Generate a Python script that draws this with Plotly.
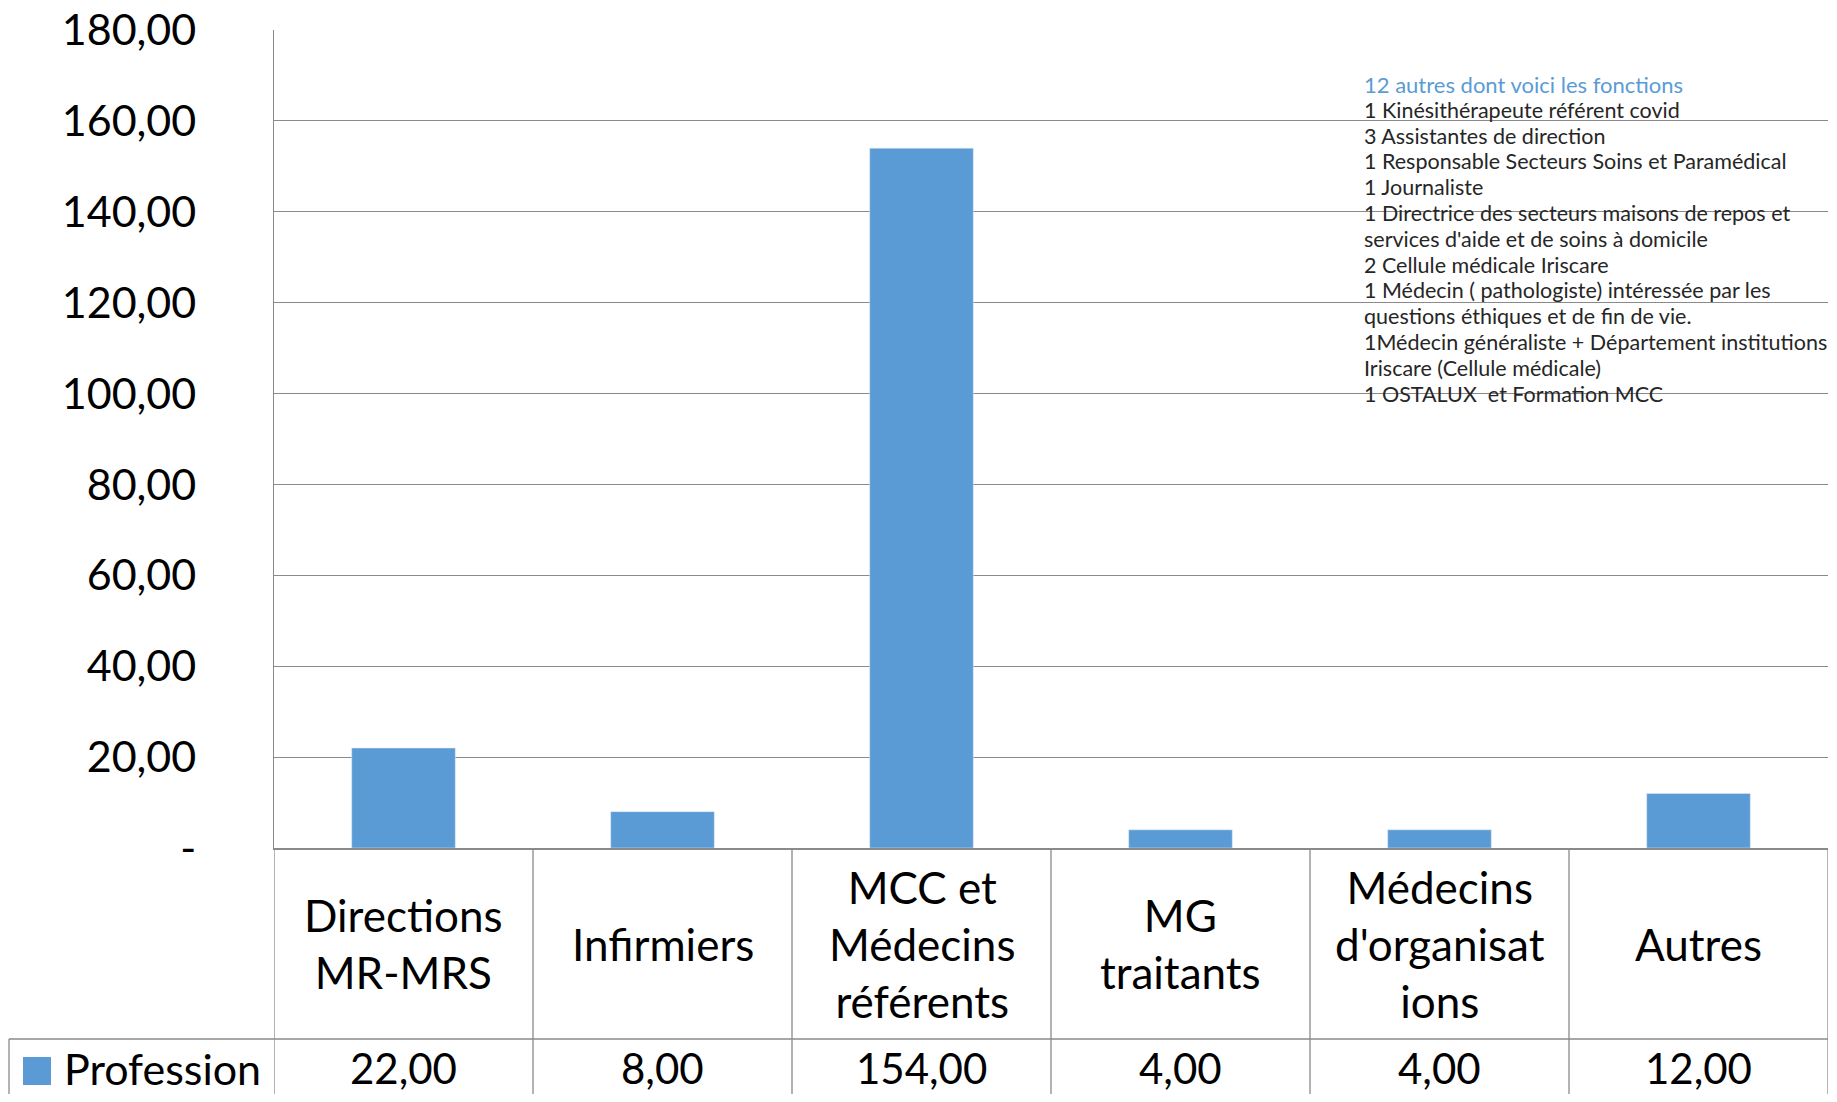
import plotly.graph_objects as go

categories = ["Directions<br>MR-MRS", "Infirmiers", "MCC et<br>Médecins<br>référents",
              "MG<br>traitants", "Médecins<br>d'organisat<br>ions", "Autres"]
values = [22, 8, 154, 4, 4, 12]
series_name = "Profession"
y_ticks = [0, 20, 40, 60, 80, 100, 120, 140, 160, 180]
note_title = "12 autres dont voici les fonctions"
note_lines = [
    "1 Kinésithérapeute référent covid",
    "3 Assistantes de direction",
    "1 Responsable Secteurs Soins et Paramédical",
    "1 Journaliste",
    "1 Directrice des secteurs maisons de repos et",
    "services d'aide et de soins à domicile",
    "2 Cellule médicale Iriscare",
    "1 Médecin ( pathologiste) intéressée par les",
    "questions éthiques et de fin de vie.",
    "1Médecin généraliste + Département institutions",
    "Iriscare (Cellule médicale)",
    "1 OSTALUX  et Formation MCC",
]

# page body margin compensation (8px default body margin)
OFF = 8
SW, SH = 1837, 1102          # screen size
W, H = SW - 2 * OFF, SH - 2 * OFF
# plot area in screen pixels
PL, PR, PT, PB = 274, 1828, 30, 848
ML, MT = PL - OFF, PT - OFF
MR = W - (PR - OFF)
MB = H - (PB - OFF)
PW = PR - PL
PH = PB - PT
BLUE = "#5B9BD5"
GRID = "#8a8a8a"
FONT = "Lato"


def fmt(v):
    return "-" if v == 0 else f"{v:.2f}".replace(".", ",")


def py(p):  # screen pixel y -> paper y
    return (PB - p) / PH


def px(p):  # screen pixel x -> paper x
    return (p - PL) / PW


idx = list(range(len(categories)))
fig = go.Figure(go.Bar(x=idx, y=values, marker_color=BLUE, width=0.4, name=series_name))

shapes = []
annotations = []
row1_bottom = 1039
bottom = SH - OFF
for i in range(len(categories) + 1):
    shapes.append(dict(type="line", xref="x", yref="paper", x0=i - 0.5, x1=i - 0.5,
                       y0=0, y1=py(bottom), line=dict(color=GRID, width=1.3)))
shapes.append(dict(type="line", xref="paper", yref="paper", x0=px(9), x1=1,
                   y0=py(row1_bottom), y1=py(row1_bottom), line=dict(color=GRID, width=1.3)))
shapes.append(dict(type="line", xref="paper", yref="paper", x0=px(9), x1=px(9),
                   y0=py(row1_bottom), y1=py(bottom), line=dict(color=GRID, width=1.3)))
# legend key
shapes.append(dict(type="rect", xref="paper", yref="paper", x0=px(23), x1=px(51),
                   y0=py(1085), y1=py(1057), fillcolor=BLUE, line=dict(width=0)))
row2_y = 1068
annotations.append(dict(text=series_name, xref="paper", yref="paper", x=px(62), y=py(row2_y),
                        xanchor="left", yanchor="middle", showarrow=False,
                        font=dict(family=FONT, size=43, color="#000")))

for i, (c, v) in enumerate(zip(categories, values)):
    annotations.append(dict(text=c, xref="x", yref="paper", x=i, y=py((PB + row1_bottom) / 2),
                            xanchor="center", yanchor="middle", showarrow=False,
                            font=dict(family=FONT, size=44, color="#000")))
    annotations.append(dict(text=fmt(v), xref="x", yref="paper", x=i, y=py(row2_y),
                            xanchor="center", yanchor="middle", showarrow=False,
                            font=dict(family=FONT, size=42, color="#000")))

x_note = px(1362)
annotations.append(dict(text=note_title, xref="paper", yref="paper", x=x_note, y=py(84),
                        xanchor="left", yanchor="middle", showarrow=False,
                        font=dict(family=FONT, size=22, color=BLUE)))
for k, line in enumerate(note_lines):
    annotations.append(dict(text=line, xref="paper", yref="paper", x=x_note, y=py(84 + 25.8 * (k + 1)),
                            xanchor="left", yanchor="middle", showarrow=False,
                            font=dict(family=FONT, size=21.5, color="#262626")))

fig.update_layout(
    width=W, height=H,
    margin=dict(l=ML, r=MR, t=MT, b=MB, pad=0, autoexpand=False),
    plot_bgcolor="white", paper_bgcolor="white",
    showlegend=False,
    shapes=shapes, annotations=annotations,
    font=dict(family=FONT, color="#000"),
)
fig.update_xaxes(range=[-0.5, len(categories) - 0.5], showticklabels=False, showgrid=False,
                 showline=True, linecolor=GRID, linewidth=1.5, zeroline=False, ticks="",
                 automargin=False)
fig.update_yaxes(range=[0, 180], tickvals=y_ticks, ticktext=[fmt(t) for t in y_ticks],
                 showgrid=True, gridcolor=GRID, gridwidth=1.3, showline=True, linecolor=GRID,
                 linewidth=1.3, zeroline=False, ticks="", ticklabelstandoff=68,
                 ticklabeloverflow="allow", automargin=False,
                 tickfont=dict(family=FONT, size=43, color="#000"))

fig.write_html("out.html")
